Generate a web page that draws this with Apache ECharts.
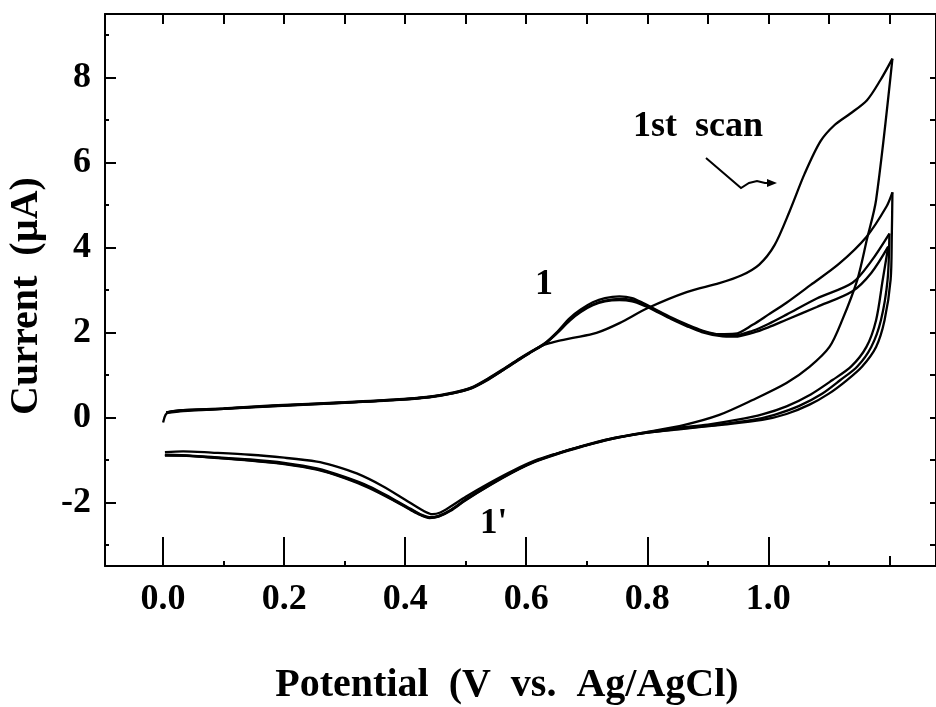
<!DOCTYPE html>
<html>
<head>
<meta charset="utf-8">
<script src="https://cdn.jsdelivr.net/npm/echarts@6/dist/echarts.min.js"></script>
<style>
html,body{margin:0;padding:0;background:#fff;}
#chart{width:936px;height:707px;}
</style>
</head>
<body>
<div id="chart"></div>
<script>
// ---- tick values ----
const xMajorTicks = [0, 0.2, 0.4, 0.6, 0.8, 1.0];
const xMinorTicks = [0.1, 0.3, 0.5, 0.7, 0.9, 1.1];
const xEndTick = [1.2];
const xTopTicks = [0, 0.1, 0.2, 0.3, 0.4, 0.5, 0.6, 0.7, 0.8, 0.9, 1.0, 1.1, 1.2];
const yMajorTicks = [-2, 0, 2, 4, 6, 8];
const yMinorTicks = [-3, -1, 1, 3, 5, 7, 9];
const yRightTicks = [-3, -2, -1, 0, 1, 2, 3, 4, 5, 6, 7, 8];

// ---- data: [potential (V), current (uA)] ----
const scan1Anodic = [
  [0.000,-0.12],[0.004,0.06],[0.010,0.13],[0.033,0.17],[0.08,0.19],[0.14,0.24],[0.2,0.28],[0.26,0.32],
  [0.33,0.37],[0.39,0.42],[0.44,0.48],[0.48,0.57],[0.51,0.69],[0.535,0.87],[0.56,1.1],[0.589,1.36],
  [0.61,1.56],[0.63,1.71],[0.65,1.79],[0.677,1.87],[0.716,1.99],[0.754,2.22],[0.80,2.57],[0.865,2.95],
  [0.919,3.16],[0.955,3.34],[0.985,3.6],[1.01,4.05],[1.035,4.85],[1.06,5.74],[1.086,6.5],[1.109,6.88],
  [1.135,7.15],[1.163,7.47],[1.185,7.94],[1.205,8.45]
];
const scan1Cathodic = [
  [1.205,8.45],[1.178,5.12],[1.163,4.2],[1.147,3.24],[1.122,2.29],[1.101,1.66],[1.068,1.19],[1.03,0.81],
  [0.974,0.41],[0.919,0.06],[0.86,-0.18],[0.80,-0.34],[0.74,-0.5],[0.69,-0.68],[0.65,-0.85],[0.614,-1.02],
  [0.58,-1.24],[0.54,-1.54],[0.5,-1.87],[0.475,-2.1],[0.458,-2.24],[0.445,-2.28],[0.43,-2.2],[0.40,-1.94],
  [0.363,-1.62],[0.32,-1.32],[0.28,-1.13],[0.254,-1.04],[0.2,-0.95],[0.144,-0.88],[0.08,-0.83],[0.033,-0.8],[0.003,-0.82]
];
const scan2Anodic = [
  [0.005,0.11],[0.033,0.16],[0.1,0.2],[0.18,0.27],[0.3,0.35],[0.39,0.42],[0.44,0.48],[0.48,0.58],
  [0.51,0.7],[0.535,0.89],[0.56,1.11],[0.589,1.38],[0.61,1.56],[0.63,1.74],[0.65,2.0],[0.672,2.34],
  [0.69,2.54],[0.71,2.71],[0.73,2.81],[0.754,2.85],[0.775,2.81],[0.795,2.68],[0.81,2.57],[0.84,2.35],
  [0.865,2.19],[0.89,2.05],[0.919,1.96],[0.945,1.97],[0.974,2.18],[1.0,2.42],[1.03,2.7],[1.07,3.12],
  [1.117,3.62],[1.162,4.25],[1.195,4.96],[1.205,5.3]
];
const scan2Cathodic = [
  [1.205,5.3],[1.204,4.3],[1.202,3.24],[1.192,2.29],[1.178,1.66],[1.155,1.2],[1.13,0.88],[1.1,0.56],
  [1.068,0.3],[1.03,0.08],[0.99,-0.06],[0.919,-0.18],[0.86,-0.27],[0.8,-0.36],[0.74,-0.51],[0.69,-0.69],
  [0.65,-0.86],[0.614,-1.04],[0.58,-1.27],[0.54,-1.58],[0.5,-1.93],[0.475,-2.18],[0.455,-2.32],[0.44,-2.35],
  [0.425,-2.28],[0.41,-2.16],[0.38,-1.92],[0.34,-1.62],[0.3,-1.4],[0.254,-1.2],[0.2,-1.07],[0.144,-0.99],
  [0.08,-0.93],[0.03,-0.89],[0.003,-0.88]
];
const scan3Anodic = [
  [0.005,0.12],[0.033,0.17],[0.1,0.21],[0.18,0.28],[0.3,0.36],[0.39,0.43],[0.44,0.49],[0.48,0.59],
  [0.51,0.71],[0.535,0.9],[0.56,1.12],[0.589,1.39],[0.61,1.57],[0.63,1.73],[0.65,1.98],[0.672,2.3],
  [0.69,2.5],[0.71,2.66],[0.73,2.75],[0.754,2.79],[0.775,2.76],[0.795,2.65],[0.81,2.55],[0.84,2.33],
  [0.865,2.17],[0.89,2.03],[0.919,1.94],[0.945,1.93],[0.974,2.04],[1.0,2.2],[1.03,2.42],[1.08,2.8],
  [1.139,3.17],[1.17,3.68],[1.2,4.33]
];
const scan3Cathodic = [
  [1.2,4.33],[1.197,3.24],[1.186,2.29],[1.17,1.66],[1.147,1.2],[1.119,0.88],[1.088,0.55],[1.051,0.27],
  [1.01,0.06],[0.974,-0.06],[0.919,-0.17],[0.86,-0.26],[0.8,-0.36],[0.74,-0.51],[0.69,-0.7],[0.65,-0.87],
  [0.614,-1.05],[0.58,-1.28],[0.54,-1.6],[0.5,-1.95],[0.475,-2.2],[0.455,-2.34],[0.44,-2.37],[0.425,-2.3],
  [0.41,-2.19],[0.38,-1.95],[0.34,-1.66],[0.3,-1.43],[0.254,-1.23],[0.2,-1.1],[0.144,-1.02],[0.08,-0.95],
  [0.03,-0.9],[0.003,-0.9]
];
const scan4Anodic = [
  [0.005,0.1],[0.033,0.15],[0.1,0.2],[0.18,0.26],[0.3,0.34],[0.39,0.41],[0.44,0.47],[0.48,0.57],
  [0.51,0.69],[0.535,0.88],[0.56,1.1],[0.589,1.37],[0.61,1.55],[0.63,1.72],[0.65,1.97],[0.672,2.28],
  [0.69,2.48],[0.71,2.64],[0.73,2.73],[0.754,2.76],[0.775,2.73],[0.795,2.63],[0.81,2.53],[0.84,2.31],
  [0.865,2.15],[0.89,2.01],[0.919,1.92],[0.945,1.9],[0.974,1.99],[1.0,2.12],[1.03,2.3],[1.08,2.6],
  [1.139,2.97],[1.17,3.4],[1.198,4.02]
];
const scan4Cathodic = [
  [1.198,4.02],[1.189,3.24],[1.178,2.29],[1.162,1.66],[1.137,1.2],[1.106,0.88],[1.07,0.54],[1.03,0.26],
  [0.99,0.07],[0.947,-0.06],[0.9,-0.17],[0.85,-0.25],[0.8,-0.35],[0.74,-0.5],[0.69,-0.69],[0.65,-0.86],
  [0.614,-1.04],[0.58,-1.27],[0.54,-1.59],[0.5,-1.94],[0.475,-2.19],[0.455,-2.33],[0.44,-2.36],[0.425,-2.29],
  [0.41,-2.18],[0.38,-1.94],[0.34,-1.64],[0.3,-1.42],[0.254,-1.22],[0.2,-1.09],[0.144,-1.01],[0.08,-0.94],
  [0.03,-0.9],[0.003,-0.89]
];

const curves = [scan1Anodic, scan1Cathodic, scan2Anodic, scan2Cathodic, scan3Anodic, scan3Cathodic, scan4Anodic, scan4Cathodic];

const X_MIN = -0.096, X_MAX = 1.277, Y_MIN = -3.5, Y_MAX = 9.5;
const FONT = '"Liberation Serif", "Times New Roman", serif';
const gridRect = {left:105, top:14, width:832, height:552};

function xAxisDef(grid, pos, line, ticks, len, labels) {
  return {
    type:'value', gridIndex:grid, position:pos, min:X_MIN, max:X_MAX,
    axisLine:{show:line, onZero:false, lineStyle:{color:'#000', width:2}},
    axisTick:{show:true, inside:true, length:len, customValues:ticks, lineStyle:{color:'#000', width:2}},
    axisLabel: labels ? {show:true, customValues:ticks, formatter:v=>v.toFixed(1), margin:16,
      fontFamily:FONT, fontWeight:'bold', fontSize:36, lineHeight:35, color:'#000'} : {show:false},
    splitLine:{show:false}
  };
}
function yAxisDef(grid, pos, line, ticks, len, labels) {
  return {
    type:'value', gridIndex:grid, position:pos, min:Y_MIN, max:Y_MAX,
    axisLine:{show:line, onZero:false, lineStyle:{color:'#000', width:2}},
    axisTick:{show:ticks !== null, inside:true, length:len, customValues:ticks || [], lineStyle:{color:'#000', width:2}},
    axisLabel: labels ? {show:true, customValues:ticks, formatter:v=>String(v), margin:14,
      fontFamily:FONT, fontWeight:'bold', fontSize:36, color:'#000'} : {show:false},
    splitLine:{show:false}
  };
}

const chart = echarts.init(document.getElementById('chart'), null, {renderer:'canvas'});
chart.setOption({
  animation:false,
  backgroundColor:'#ffffff',
  grid:[0,1,2,3].map(()=>Object.assign({}, gridRect)),
  xAxis:[
    xAxisDef(0,'bottom',true,xMajorTicks,29,true),
    xAxisDef(1,'bottom',false,xMinorTicks,5,false),
    xAxisDef(2,'top',true,xTopTicks,10,false),
    xAxisDef(3,'bottom',false,xEndTick,10,false)
  ],
  yAxis:[
    yAxisDef(0,'left',true,yMajorTicks,11,true),
    yAxisDef(1,'left',false,yMinorTicks,4,false),
    yAxisDef(2,'right',true,yRightTicks,6,false),
    Object.assign(yAxisDef(3,'left',false,null,0,false), {show:false})
  ],
  series: curves.map(d => ({
    type:'line', xAxisIndex:0, yAxisIndex:0, data:d,
    symbol:'none', showSymbol:false, smooth:0.3,
    lineStyle:{color:'#000', width:2.3}, silent:true
  })),
  graphic:[
    {type:'text', x:507, y:686, style:{text:'Potential  (V  vs.  Ag/AgCl)', font:'bold 40px ' + FONT, fill:'#000', textAlign:'center', textVerticalAlign:'middle'}},
    {type:'text', x:27, y:296, rotation:Math.PI/2, style:{text:'Current  (\u00b5A)', font:'bold 40px ' + FONT, fill:'#000', textAlign:'center', textVerticalAlign:'middle'}},
    {type:'text', x:633, y:127, style:{text:'1st  scan', font:'bold 36px ' + FONT, fill:'#000', textAlign:'left', textVerticalAlign:'middle'}},
    {type:'text', x:544, y:285, style:{text:'1', font:'bold 36px ' + FONT, fill:'#000', textAlign:'center', textVerticalAlign:'middle'}},
    {type:'text', x:480, y:524, style:{text:"1'", font:'bold 35px ' + FONT, fill:'#000', textAlign:'left', textVerticalAlign:'middle'}},
    {type:'polyline', shape:{points:[[706,158],[741,188],[749,183],[757,181],[765,183],[770,183]]}, style:{stroke:'#000', lineWidth:2, fill:null}},
    {type:'polygon', shape:{points:[[777,183],[767,179],[767,187]]}, style:{fill:'#000'}}
  ]
});
</script>
</body>
</html>
